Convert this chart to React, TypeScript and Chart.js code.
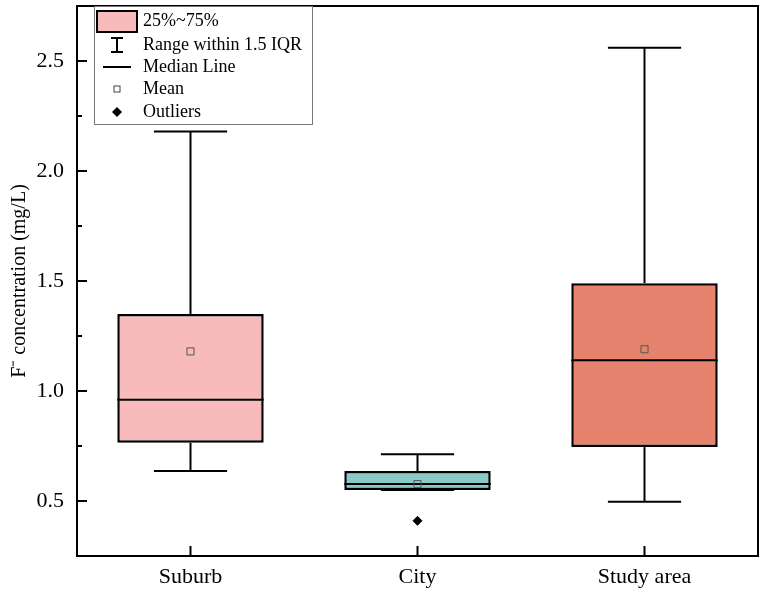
import React, { useEffect, useRef } from 'react';
import { Chart, registerables } from 'chart.js';

Chart.register(...registerables);

const categories = ['Suburb', 'City', 'Study area'];
const whiskerLow = [0.636, 0.55, 0.497];
const q1 = [0.765, 0.55, 0.745];
const median = [0.96, 0.577, 1.14];
const q3 = [1.35, 0.636, 1.49];
const whiskerHigh = [2.18, 0.713, 2.56];
const means = [1.18, 0.577, 1.19];
const outliers: (number | null)[] = [null, 0.41, null];
const boxColors = ['#F7BBBB', '#88CAC6', '#E5836E'];
const yTicks = [0.5, 1.0, 1.5, 2.0, 2.5];
const yMinorTicks = [0.75, 1.25, 1.75, 2.25];
const legendLabels = ['25%~75%', 'Range within 1.5 IQR', 'Median Line', 'Mean', 'Outliers'];

const FONT = "'Liberation Serif', 'Times New Roman', serif";

function line(ctx: CanvasRenderingContext2D, x1: number, y1: number, x2: number, y2: number) {
  ctx.beginPath();
  ctx.moveTo(x1, y1);
  ctx.lineTo(x2, y2);
  ctx.stroke();
}

const boxPlugin = {
  id: 'boxExtras',
  afterDatasetDraw(chart: any, args: any) {
    if (args.index !== 0) return;
    const ctx: CanvasRenderingContext2D = chart.ctx;
    const y = chart.scales.y;
    const meta = chart.getDatasetMeta(0);
    ctx.save();
    ctx.strokeStyle = '#000';
    ctx.lineWidth = 2;
    categories.forEach((_, i) => {
      const bar = meta.data[i];
      const cx = bar.x;
      const w = bar.width;
      const capHalf = w / 4;
      const yHigh = y.getPixelForValue(whiskerHigh[i]);
      const yLow = y.getPixelForValue(whiskerLow[i]);
      const yQ3 = y.getPixelForValue(q3[i]);
      const yQ1 = y.getPixelForValue(q1[i]);
      const yMed = y.getPixelForValue(median[i]);
      line(ctx, cx, yQ3, cx, yHigh);
      line(ctx, cx - capHalf, yHigh, cx + capHalf, yHigh);
      line(ctx, cx, yQ1, cx, yLow);
      line(ctx, cx - capHalf, yLow, cx + capHalf, yLow);
      line(ctx, cx - w / 2, yMed, cx + w / 2, yMed);
    });
    ctx.restore();
  },
  afterDraw(chart: any) {
    const ctx: CanvasRenderingContext2D = chart.ctx;
    const { left, right, top, bottom } = chart.chartArea;
    const x = chart.scales.x;
    const y = chart.scales.y;
    ctx.save();
    ctx.strokeStyle = '#000';
    ctx.lineWidth = 2;
    ctx.strokeRect(left, top, right - left, bottom - top);
    // x ticks (inward)
    categories.forEach((_, i) => {
      const px = x.getPixelForValue(i);
      line(ctx, px, bottom, px, bottom - 10);
    });
    // y ticks (inward)
    yTicks.forEach((v) => {
      const py = y.getPixelForValue(v);
      line(ctx, left, py, left + 10, py);
    });
    yMinorTicks.forEach((v) => {
      const py = y.getPixelForValue(v);
      line(ctx, left, py, left + 5, py);
    });

    // legend
    const lx = 94, ly = 6, lw = 218, lh = 118;
    ctx.lineWidth = 1;
    ctx.strokeStyle = '#777';
    ctx.fillStyle = '#fff';
    ctx.fillRect(lx, ly, lw, lh);
    ctx.strokeRect(lx + 0.5, ly + 0.5, lw, lh);
    const iconX = 117;
    const textX = 143;
    const rows = [21, 45, 67, 89, 112];
    ctx.strokeStyle = '#000';
    // row 0: box swatch
    ctx.fillStyle = boxColors[0];
    ctx.fillRect(97, 11, 40, 21);
    ctx.lineWidth = 2;
    ctx.strokeRect(97, 11, 40, 21);
    // row 1: whisker icon
    ctx.lineWidth = 2;
    line(ctx, iconX, rows[1] - 7, iconX, rows[1] + 7);
    line(ctx, iconX - 6, rows[1] - 7, iconX + 6, rows[1] - 7);
    line(ctx, iconX - 6, rows[1] + 7, iconX + 6, rows[1] + 7);
    // row 2: median line
    line(ctx, iconX - 14, rows[2], iconX + 14, rows[2]);
    // row 3: mean square
    ctx.lineWidth = 1;
    ctx.strokeStyle = '#444';
    ctx.strokeRect(iconX - 3, rows[3] - 3, 6, 6);
    // row 4: diamond
    ctx.fillStyle = '#000';
    ctx.beginPath();
    ctx.moveTo(iconX, rows[4] - 5);
    ctx.lineTo(iconX + 5, rows[4]);
    ctx.lineTo(iconX, rows[4] + 5);
    ctx.lineTo(iconX - 5, rows[4]);
    ctx.closePath();
    ctx.fill();
    // texts
    ctx.fillStyle = '#000';
    ctx.font = `18px ${FONT}`;
    ctx.textBaseline = 'middle';
    ctx.textAlign = 'left';
    legendLabels.forEach((t, i) => ctx.fillText(t, textX, rows[i]));
    ctx.restore();
  },
};

export default function App() {
  const ref = useRef<HTMLCanvasElement>(null);
  useEffect(() => {
    const canvas = ref.current;
    if (!canvas) return;
    const chart = new Chart(canvas, {
      type: 'bar',
      data: {
        labels: categories,
        datasets: [
          {
            type: 'bar',
            data: categories.map((_, i) => [q1[i], q3[i]]) as any,
            backgroundColor: boxColors,
            borderColor: '#000',
            borderWidth: 2.5,
            borderSkipped: false,
            barPercentage: 0.645,
            categoryPercentage: 1,
            order: 2,
          } as any,
          {
            type: 'line',
            data: means,
            showLine: false,
            pointStyle: 'rect',
            pointRadius: 5,
            pointBorderColor: '#555',
            pointBackgroundColor: 'rgba(0,0,0,0)',
            pointBorderWidth: 1,
            order: 0,
          } as any,
          {
            type: 'line',
            data: outliers,
            showLine: false,
            pointStyle: 'rectRot',
            pointRadius: 4.5,
            pointBorderColor: '#000',
            pointBackgroundColor: '#000',
            pointBorderWidth: 1,
            order: 0,
          } as any,
        ],
      },
      options: {
        responsive: false,
        animation: false,
        devicePixelRatio: 1,
        layout: { padding: { top: 4, right: 2, left: 0, bottom: 0 } },
        plugins: { legend: { display: false }, tooltip: { enabled: false } },
        scales: {
          x: {
            type: 'category',
            offset: true,
            grid: { display: false, drawTicks: false },
            border: { display: false },
            ticks: { color: '#000', font: { family: FONT, size: 22 }, padding: 8 },
            afterFit: (s: any) => { s.height = 36; s.paddingLeft = 0; s.paddingRight = 0; },
          },
          y: {
            type: 'linear',
            min: 0.25,
            max: 2.75,
            grid: { display: false, drawTicks: false },
            border: { display: false },
            afterBuildTicks: (s: any) => { s.ticks = yTicks.map((v) => ({ value: v })); },
            ticks: {
              color: '#000',
              font: { family: FONT, size: 22 },
              padding: 13,
              callback: (v: any) => Number(v).toFixed(1),
            },
            title: {
              display: true,
              text: 'F⁻ concentration (mg/L)',
              color: '#000',
              font: { family: FONT, size: 20 },
              padding: { top: 8, bottom: 0 },
            },
            afterFit: (s: any) => { s.width = 77; s.paddingTop = 0; s.paddingBottom = 0; },
          },
        },
      } as any,
      plugins: [boxPlugin],
    });
    return () => chart.destroy();
  }, []);
  return (
    <div style={{ position: 'absolute', left: 0, top: 0, width: 764, height: 592, background: '#fff' }}>
      <canvas ref={ref} width={764} height={592} style={{ width: 764, height: 592 }} />
    </div>
  );
}
